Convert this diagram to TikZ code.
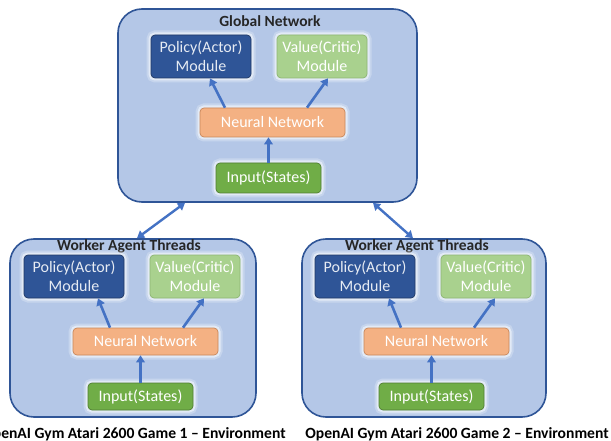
\documentclass[tikz,border=0pt]{standalone}
\usepackage{fontspec}
\setmainfont{Carlito}
\usetikzlibrary{arrows.meta,calc}
\definecolor{outerf}{HTML}{B4C7E7}
\definecolor{outerb}{HTML}{2F5597}
\definecolor{polf}{HTML}{2F5597}
\definecolor{polb}{HTML}{203864}
\definecolor{valf}{HTML}{A9D18E}
\definecolor{valb}{HTML}{8DB573}
\definecolor{nnf}{HTML}{F4B183}
\definecolor{nnb}{HTML}{C9875A}
\definecolor{inf}{HTML}{70AD47}
\definecolor{inb}{HTML}{507E32}
\definecolor{arrc}{HTML}{4472C4}
\definecolor{titc}{HTML}{262626}
\begin{document}
\begin{tikzpicture}[x=1pt,y=-1pt,
  outer/.style={draw=outerb,fill=outerf,line width=1.6pt,rounded corners=24pt},
  glow/.style={preaction={draw=white,line width=9pt,opacity=0.25},
               preaction={draw=white,line width=5pt,opacity=0.5}},
  box/.style={glow,rounded corners=4pt,line width=0.7pt,inner sep=0pt,align=center,
              text=white,font=\fontsize{16}{19}\selectfont},
  pol/.style={box,fill=polf,draw=polb,text=white!88!polf,minimum width=100pt,minimum height=43pt},
  val/.style={box,fill=valf,draw=valb,minimum width=90pt,minimum height=43pt},
  nn/.style={box,fill=nnf,draw=nnb,minimum width=145pt,minimum height=28pt},
  inp/.style={box,fill=inf,draw=inb,minimum width=105pt,minimum height=28pt},
  ttl/.style={text=titc,font=\bfseries\fontsize{15.5}{17}\selectfont,inner sep=0pt},
  env/.style={text=black,font=\bfseries\fontsize{15.6}{17}\selectfont,inner sep=0pt},
  arr/.style={draw=arrc,line width=2.6pt,-{Triangle[length=7pt,width=8.5pt]}},
  arrb/.style={draw=arrc,line width=2.4pt,{Triangle[length=7pt,width=8.5pt]}-{Triangle[length=7pt,width=8.5pt]}}
]
\clip (0,0) rectangle (611,441);
\fill[white] (0,0) rectangle (611,441);

% ---------- global network ----------
\node[outer,minimum width=299pt,minimum height=193pt,inner sep=0pt] (g) at (267.5,105.5) {};
\node[ttl] (gt) at (270,21) {Global Network};
\node[pol] (gpol) at (201,56.5) {Policy(Actor)\\Module};
\node[val] (gval) at (322,56.5) {Value(Critic)\\Module};
\node[nn,minimum height=29pt] (gnn) at (272.5,122.5) {Neural Network};
\node[inp,minimum height=30pt] (gin) at (268.5,178) {Input(States)};
\draw[arr] ([xshift=-47.5pt]gnn.north) -- ([xshift=9pt]gpol.south);
\draw[arr] ([xshift=34.5pt]gnn.north) -- ([xshift=6pt]gval.south);
\draw[arr] (gin.north) -- (gin.north |- gnn.south);

% ---------- worker 1 ----------
\node[outer,minimum width=246pt,minimum height=178pt,inner sep=0pt] (w1) at (133,328) {};
\node[ttl] (w1t) at (129,246.5) {Worker Agent Threads};
\node[pol] (w1pol) at (74,276.5) {Policy(Actor)\\Module};
\node[val] (w1val) at (195,276.5) {Value(Critic)\\Module};
\node[nn,minimum height=27pt] (w1nn) at (145.5,341.5) {Neural Network};
\node[inp,minimum height=27pt] (w1in) at (140.5,396.5) {Input(States)};
\draw[arr] ([xshift=-35.5pt]w1nn.north) -- ([xshift=24pt]w1pol.south);
\draw[arr] ([xshift=37.5pt]w1nn.north) -- ([xshift=9pt]w1val.south);
\draw[arr] (w1in.north) -- (w1in.north |- w1nn.south);
\node[env] (e1) at (134,434) {OpenAI Gym Atari 2600 Game 1 – Environment};

% ---------- worker 2 ----------
\node[outer,minimum width=244pt,minimum height=178pt,inner sep=0pt] (w2) at (424,328) {};
\node[ttl] (w2t) at (417,246.5) {Worker Agent Threads};
\node[pol] (w2pol) at (365,276.5) {Policy(Actor)\\Module};
\node[val] (w2val) at (486,276.5) {Value(Critic)\\Module};
\node[nn,minimum height=27pt] (w2nn) at (436.5,341.5) {Neural Network};
\node[inp,minimum height=27pt] (w2in) at (431.5,396.5) {Input(States)};
\draw[arr] ([xshift=-35.5pt]w2nn.north) -- ([xshift=24pt]w2pol.south);
\draw[arr] ([xshift=37.5pt]w2nn.north) -- ([xshift=9pt]w2val.south);
\draw[arr] (w2in.north) -- (w2in.north |- w2nn.south);
\node[env] (e2) at (457,434) {OpenAI Gym Atari 2600 Game 2 – Environment};

% ---------- links ----------
\draw[arrb] ([xshift=4pt]w1.north) -- ([xshift=-82.5pt]g.south);
\draw[arrb] ([xshift=-11pt]w2.north) -- ([xshift=105.5pt]g.south);
\end{tikzpicture}
\end{document}
